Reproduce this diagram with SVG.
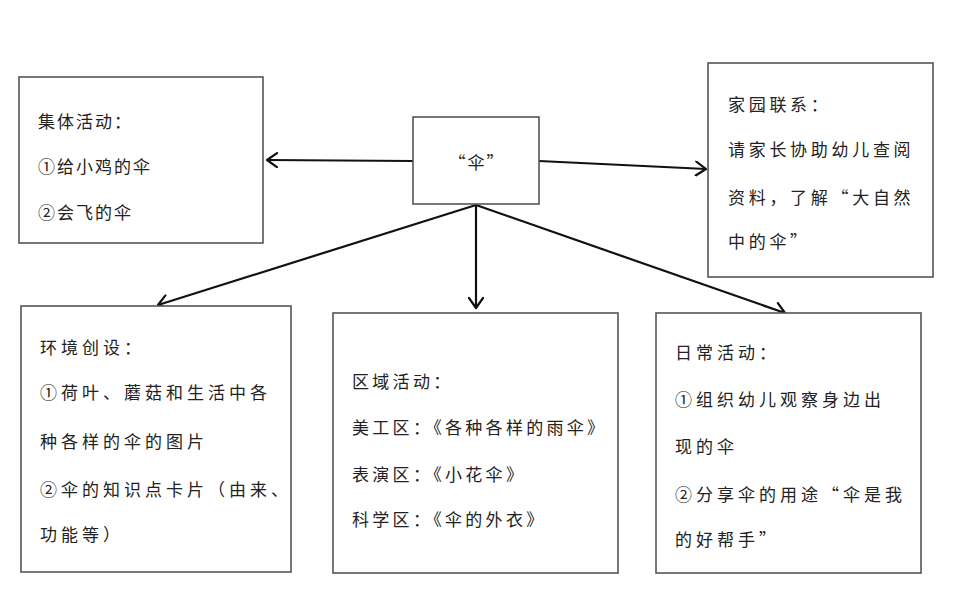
<svg xmlns="http://www.w3.org/2000/svg" width="959" height="597" viewBox="0 0 959 597">
<style>
.box{fill:#fff;stroke:#555;stroke-width:1.6}
.t{font-family:"Noto Sans CJK SC","Noto Sans",sans-serif;font-size:17px;fill:#222}
.c{fill:none;stroke:#111;stroke-width:2.2}
</style>
<defs>
<marker id="ah" markerUnits="userSpaceOnUse" markerWidth="16" markerHeight="16" refX="12" refY="8" orient="auto">
<path d="M2,1 L12,8 L2,15" fill="none" stroke="#111" stroke-width="2.2" stroke-linecap="round" stroke-linejoin="round"/>
</marker>
</defs>
<rect width="959" height="597" fill="#fff"/>
<g id="connectors">
<line class="c" x1="413" y1="161" x2="267" y2="160" marker-end="url(#ah)"/>
<line class="c" x1="539" y1="161" x2="706" y2="169" marker-end="url(#ah)"/>
<line class="c" x1="476" y1="205" x2="158" y2="305" marker-end="url(#ah)"/>
<line class="c" x1="476" y1="205" x2="476" y2="308" marker-end="url(#ah)"/>
<line class="c" x1="476" y1="205" x2="785" y2="313" marker-end="url(#ah)"/>
</g>
<g id="center">
<rect class="box" x="413" y="117" width="126" height="87"/>
<text class="t" x="477" y="169" text-anchor="middle" style="letter-spacing:2px">“伞”</text>
</g>
<g id="jiti">
<rect class="box" x="19" y="77" width="244" height="166"/>
<g class="t" style="letter-spacing:2px">
<text x="38" y="128">集体活动：</text>
<text x="38" y="173">①给小鸡的伞</text>
<text x="38" y="219">②会飞的伞</text>
</g>
</g>
<g id="jiayuan">
<rect class="box" x="708" y="63" width="225" height="214"/>
<g class="t" style="letter-spacing:3.7px">
<text x="728" y="111">家园联系：</text>
<text x="728" y="156">请家长协助幼儿查阅</text>
<text x="728" y="204">资料，了解“大自然</text>
<text x="728" y="248">中的伞”</text>
</g>
</g>
<g id="huanjing">
<rect class="box" x="21" y="306" width="270" height="266"/>
<g class="t" style="letter-spacing:4px">
<text x="40" y="354">环境创设：</text>
<text x="40" y="399">①荷叶、蘑菇和生活中各</text>
<text x="40" y="448">种各样的伞的图片</text>
<text x="40" y="496">②伞的知识点卡片（由来、</text>
<text x="40" y="541">功能等）</text>
</g>
</g>
<g id="quyu">
<rect class="box" x="333" y="313" width="285" height="260"/>
<g class="t" style="letter-spacing:3.3px">
<text x="352" y="388">区域活动：</text>
<text x="352" y="434">美工区：《各种各样的雨伞》</text>
<text x="352" y="481">表演区：《小花伞》</text>
<text x="352" y="526">科学区：《伞的外衣》</text>
</g>
</g>
<g id="richang">
<rect class="box" x="656" y="313" width="265" height="260"/>
<g class="t" style="letter-spacing:4px">
<text x="675" y="359">日常活动：</text>
<text x="675" y="406">①组织幼儿观察身边出</text>
<text x="675" y="453">现的伞</text>
<text x="675" y="501">②分享伞的用途“伞是我</text>
<text x="675" y="546">的好帮手”</text>
</g>
</g>
</svg>
